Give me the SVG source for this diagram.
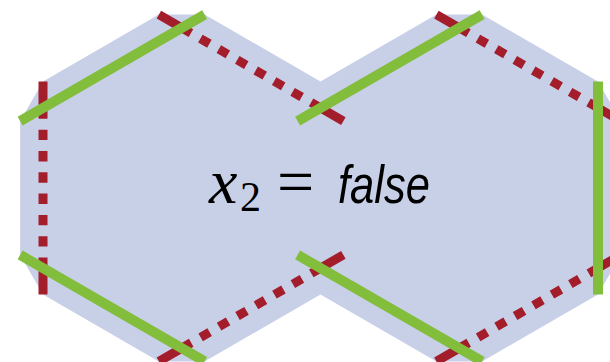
<svg xmlns="http://www.w3.org/2000/svg" width="610" height="362" viewBox="0 0 610 362">
  <style>
    .fill { fill: #c8d0e8; stroke: none; }
    .red { stroke: #a31d2b; stroke-width: 9; fill: none; stroke-linecap: butt;
           stroke-dasharray: 37 10.9 10.4 10.9 10.4 10.9 10.4 10.9 10.4 10.9 10.4 10.9 10.4 10.9 60 200; }
    .green { stroke: #82bd3b; stroke-width: 10; fill: none; stroke-linecap: butt; }
    .math { font-family: "Liberation Serif", "DejaVu Serif", serif; fill: #000; }
    .word { font-family: "Liberation Sans", "DejaVu Sans", sans-serif; font-style: italic; fill: #000; }
  </style>
  <rect width="610" height="362" fill="#ffffff"/>
  <g id="hex-left">
    <polygon class="fill" points="158.89,14.6 204.61,14.6 320.5,81.5 343.36,121.1 343.36,254.9 320.5,294.5 204.61,361.4 158.89,361.4 43,294.5 20.14,254.9 20.14,121.1 43,81.5"/>
  </g>
  <g id="hex-right">
    <polygon class="fill" points="436.39,14.6 482.11,14.6 598,81.5 620.86,121.1 620.86,254.9 598,294.5 482.11,361.4 436.39,361.4 320.5,294.5 297.64,254.9 297.64,121.1 320.5,81.5"/>
  </g>
  <g id="connectors">
    <line class="red" x1="158.89" y1="14.6" x2="343.36" y2="121.1"/>
    <line class="red" x1="343.36" y1="254.9" x2="158.89" y2="361.4"/>
    <line class="red" x1="43" y1="294.5" x2="43" y2="81.5"/>
    <line class="red" x1="436.39" y1="14.6" x2="620.86" y2="121.1"/>
    <line class="red" x1="620.86" y1="254.9" x2="436.39" y2="361.4"/>
    <line class="green" x1="20.14" y1="121.1" x2="204.61" y2="14.6"/>
    <line class="green" x1="204.61" y1="361.4" x2="20.14" y2="254.9"/>
    <line class="green" x1="297.64" y1="121.1" x2="482.11" y2="14.6"/>
    <line class="green" x1="598" y1="81.5" x2="598" y2="294.5"/>
    <line class="green" x1="482.11" y1="361.4" x2="297.64" y2="254.9"/>
  </g>
  <g id="label">
    <text class="math" x="209" y="203" font-size="64" font-style="italic">x</text>
    <text class="math" x="240" y="211" font-size="42">2</text>
    <text class="math" x="277" y="204" font-size="66">=</text>
    <text class="word" x="338" y="203" font-size="53" textLength="92" lengthAdjust="spacingAndGlyphs">false</text>
  </g>
</svg>
